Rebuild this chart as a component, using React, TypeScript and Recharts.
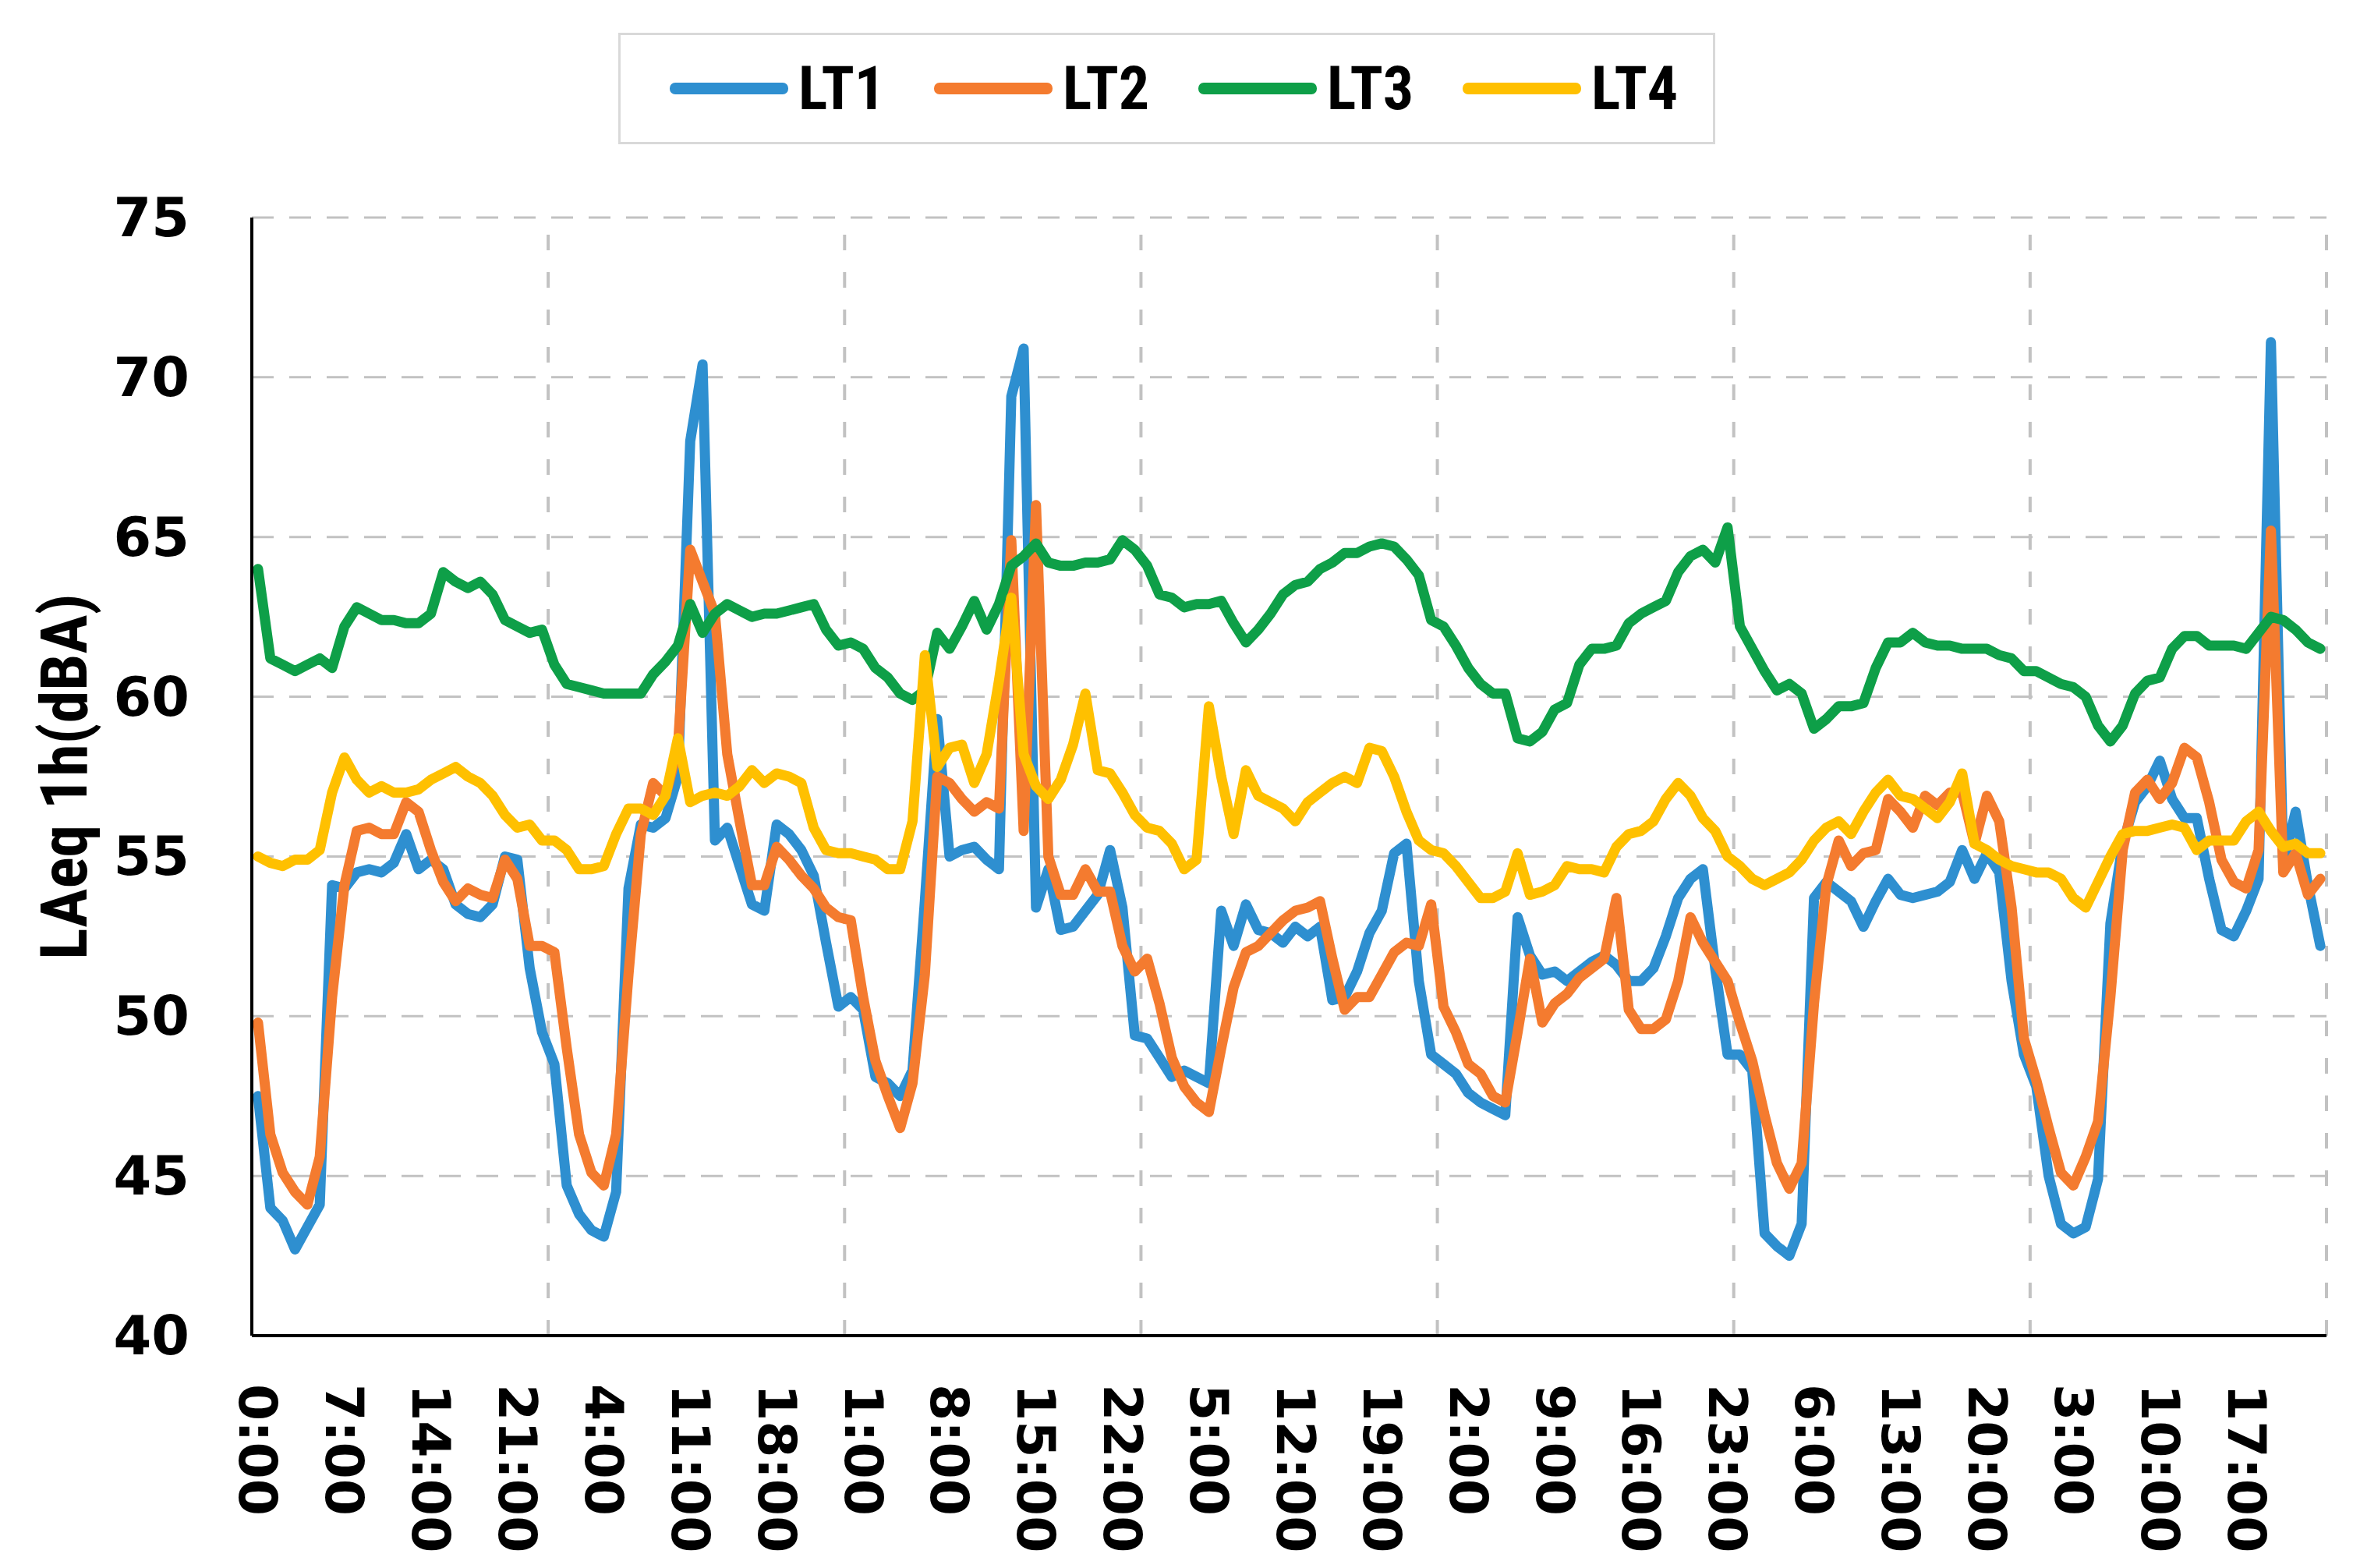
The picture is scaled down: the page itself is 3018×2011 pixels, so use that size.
import React from 'react';
import { LineChart, Line, XAxis, YAxis, CartesianGrid, ReferenceLine, Legend } from 'recharts';

// hour index 0..167 (7 days of hourly LAeq values)
const hours: number[] = Array.from({ length: 168 }, (_, i) => i);

const tickHours = [0, 7, 14, 21, 28, 35, 42, 49, 56, 63, 70, 77, 84, 91, 98, 105, 112, 119, 126, 133, 140, 147, 154, 161];
const tickLabels = ['0:00', '7:00', '14:00', '21:00', '4:00', '11:00', '18:00', '1:00', '8:00', '15:00', '22:00', '5:00', '12:00', '19:00', '2:00', '9:00', '16:00', '23:00', '6:00', '13:00', '20:00', '3:00', '10:00', '17:00'];
const dayBoundaries = [23.5, 47.5, 71.5, 95.5, 119.5, 143.5, 167.5];
const yTicks = [40, 45, 50, 55, 60, 65, 70, 75];

const lt1 = [
  47.5, 44.0, 43.6, 42.7, 43.4, 44.1, 54.1, 54.0, 54.5, 54.6, 54.5, 54.8, 55.7, 54.6, 54.9, 54.6, 53.5, 53.2, 53.1, 53.5, 55.0, 54.9, 51.5, 49.5,
  48.5, 44.7, 43.8, 43.3, 43.1, 44.5, 54.0, 56.0, 55.9, 56.2, 57.5, 68.0, 70.4, 55.5, 55.9, 54.7, 53.5, 53.3, 56.0, 55.7, 55.2, 54.4, 52.3, 50.3,
  50.6, 50.2, 48.1, 47.9, 47.5, 48.3, 53.6, 59.3, 55.0, 55.2, 55.3, 54.9, 54.6, 69.4, 70.9, 53.4, 54.6, 52.7, 52.8, 53.3, 53.8, 55.2, 53.4, 49.4,
  49.3, 48.7, 48.1, 48.3, 48.1, 47.9, 53.3, 52.2, 53.5, 52.7, 52.6, 52.3, 52.8, 52.5, 52.8, 50.5, 50.6, 51.4, 52.6, 53.3, 55.1, 55.4, 51.1, 48.8,
  48.5, 48.2, 47.6, 47.3, 47.1, 46.9, 53.1, 51.9, 51.3, 51.4, 51.1, 51.4, 51.7, 51.9, 51.6, 51.1, 51.1, 51.5, 52.5, 53.7, 54.3, 54.6, 51.5, 48.8,
  48.8, 48.3, 43.2, 42.8, 42.5, 43.5, 53.7, 54.2, 53.9, 53.6, 52.8, 53.6, 54.3, 53.8, 53.7, 53.8, 53.9, 54.2, 55.2, 54.3, 55.1, 54.5, 51.1, 48.8,
  47.8, 45.0, 43.5, 43.2, 43.4, 44.9, 52.9, 55.4, 56.7, 57.2, 58.0, 56.8, 56.2, 56.2, 54.3, 52.7, 52.5, 53.3, 54.3, 71.1, 54.8, 56.4, 54.1, 52.2,
];

const lt2 = [
  49.8, 46.3, 45.1, 44.5, 44.1, 45.6, 50.6, 54.1, 55.8, 55.9, 55.7, 55.7, 56.7, 56.4, 55.2, 54.2, 53.6, 54.0, 53.8, 53.7, 54.9, 54.3, 52.2, 52.2,
  52.0, 49.0, 46.3, 45.1, 44.7, 46.3, 51.3, 55.7, 57.3, 56.9, 58.4, 64.6, 63.6, 62.6, 58.2, 56.1, 54.1, 54.1, 55.3, 54.9, 54.4, 54.0, 53.4, 53.1,
  53.0, 50.6, 48.6, 47.5, 46.5, 47.9, 51.3, 57.5, 57.3, 56.8, 56.4, 56.7, 56.5, 64.9, 55.8, 66.0, 55.0, 53.8, 53.8, 54.6, 53.9, 53.9, 52.2, 51.4,
  51.8, 50.4, 48.7, 47.8, 47.3, 47.0, 49.0, 50.9, 52.0, 52.2, 52.6, 53.0, 53.3, 53.4, 53.6, 51.8, 50.2, 50.6, 50.6, 51.3, 52.0, 52.3, 52.2, 53.5,
  50.3, 49.5, 48.5, 48.2, 47.5, 47.3, 49.5, 51.8, 49.8, 50.4, 50.7, 51.2, 51.5, 51.8, 53.7, 50.2, 49.6, 49.6, 49.9, 51.1, 53.1, 52.3, 51.7, 51.1,
  49.8, 48.6, 46.9, 45.4, 44.6, 45.4, 50.4, 54.1, 55.5, 54.7, 55.1, 55.2, 56.8, 56.4, 55.9, 56.9, 56.6, 57.0, 57.0, 55.4, 56.9, 56.1, 53.4, 49.3,
  48.0, 46.5, 45.1, 44.7, 45.6, 46.7, 50.6, 55.2, 57.0, 57.4, 56.8, 57.3, 58.4, 58.1, 56.7, 54.9, 54.2, 54.0, 55.2, 65.2, 54.5, 55.1, 53.8, 54.3,
];

const lt3 = [
  64.0, 61.2, 61.0, 60.8, 61.0, 61.2, 60.9, 62.2, 62.8, 62.6, 62.4, 62.4, 62.3, 62.3, 62.6, 63.9, 63.6, 63.4, 63.6, 63.2, 62.4, 62.2, 62.0, 62.1,
  61.0, 60.4, 60.3, 60.2, 60.1, 60.1, 60.1, 60.1, 60.7, 61.1, 61.6, 62.9, 62.0, 62.6, 62.9, 62.7, 62.5, 62.6, 62.6, 62.7, 62.8, 62.9, 62.1, 61.6,
  61.7, 61.5, 60.9, 60.6, 60.1, 59.9, 60.2, 62.0, 61.5, 62.2, 63.0, 62.1, 62.9, 64.1, 64.4, 64.8, 64.2, 64.1, 64.1, 64.2, 64.2, 64.3, 64.9, 64.6,
  64.1, 63.2, 63.1, 62.8, 62.9, 62.9, 63.0, 62.3, 61.7, 62.1, 62.6, 63.2, 63.5, 63.6, 64.0, 64.2, 64.5, 64.5, 64.7, 64.8, 64.7, 64.3, 63.8, 62.4,
  62.2, 61.6, 60.9, 60.4, 60.1, 60.1, 58.7, 58.6, 58.9, 59.6, 59.8, 61.0, 61.5, 61.5, 61.6, 62.3, 62.6, 62.8, 63.0, 63.9, 64.4, 64.6, 64.2, 65.3,
  62.2, 61.5, 60.8, 60.2, 60.4, 60.1, 59.0, 59.3, 59.7, 59.7, 59.8, 60.9, 61.7, 61.7, 62.0, 61.7, 61.6, 61.6, 61.5, 61.5, 61.5, 61.3, 61.2, 60.8,
  60.8, 60.6, 60.4, 60.3, 60.0, 59.1, 58.6, 59.1, 60.1, 60.5, 60.6, 61.5, 61.9, 61.9, 61.6, 61.6, 61.6, 61.5, 62.0, 62.5, 62.4, 62.1, 61.7, 61.5,
];

const lt4 = [
  55.0, 54.8, 54.7, 54.9, 54.9, 55.2, 57.0, 58.1, 57.4, 57.0, 57.2, 57.0, 57.0, 57.1, 57.4, 57.6, 57.8, 57.5, 57.3, 56.9, 56.3, 55.9, 56.0, 55.5,
  55.5, 55.2, 54.6, 54.6, 54.7, 55.7, 56.5, 56.5, 56.3, 56.9, 58.7, 56.7, 56.9, 57.0, 56.9, 57.2, 57.7, 57.3, 57.6, 57.5, 57.3, 55.9, 55.2, 55.1,
  55.1, 55.0, 54.9, 54.6, 54.6, 56.1, 61.3, 57.8, 58.4, 58.5, 57.3, 58.2, 60.5, 63.1, 58.2, 57.2, 56.8, 57.4, 58.5, 60.1, 57.7, 57.6, 57.0, 56.3,
  55.9, 55.8, 55.4, 54.6, 54.9, 59.7, 57.5, 55.7, 57.7, 56.9, 56.7, 56.5, 56.1, 56.7, 57.0, 57.3, 57.5, 57.3, 58.4, 58.3, 57.5, 56.4, 55.5, 55.2,
  55.1, 54.7, 54.2, 53.7, 53.7, 53.9, 55.1, 53.8, 53.9, 54.1, 54.7, 54.6, 54.6, 54.5, 55.3, 55.7, 55.8, 56.1, 56.8, 57.3, 56.9, 56.2, 55.8, 55.0,
  54.7, 54.3, 54.1, 54.3, 54.5, 54.9, 55.5, 55.9, 56.1, 55.7, 56.4, 57.0, 57.4, 56.9, 56.8, 56.5, 56.2, 56.7, 57.6, 55.4, 55.2, 54.9, 54.7, 54.6,
  54.5, 54.5, 54.3, 53.7, 53.4, 54.2, 55.0, 55.7, 55.8, 55.8, 55.9, 56.0, 55.9, 55.2, 55.5, 55.5, 55.5, 56.1, 56.4, 55.8, 55.3, 55.4, 55.1, 55.1,
];

const series = [
  { key: 'lt1', name: 'LT1', color: '#2E8FD0' },
  { key: 'lt2', name: 'LT2', color: '#F47B2F' },
  { key: 'lt3', name: 'LT3', color: '#0E9F48' },
  { key: 'lt4', name: 'LT4', color: '#FFC000' },
];

const data = hours.map((h) => ({ h, lt1: lt1[h], lt2: lt2[h], lt3: lt3[h], lt4: lt4[h] }));

const WIDE = "'DejaVu Sans', Verdana, sans-serif";
const NARROW = "'Liberation Sans Narrow', 'Arial Narrow', 'Roboto Condensed', 'Liberation Sans', sans-serif";
const GRID = '#c2c2c2';

const XTick = (props: any) => {
  const { x, y, payload } = props;
  const idx = tickHours.indexOf(payload.value);
  return (
    <text
      transform={`translate(${x},${y}) rotate(90)`}
      textAnchor="start"
      dominantBaseline="central"
      fontFamily={WIDE}
      fontWeight="bold"
      fontSize={68}
      fill="#000"
    >
      {tickLabels[idx]}
    </text>
  );
};

const YTick = (props: any) => {
  const { x, y, payload } = props;
  return (
    <text x={x} y={y} textAnchor="end" dominantBaseline="central" fontFamily={WIDE} fontWeight="bold" fontSize={70} fill="#000">
      {payload.value}
    </text>
  );
};

const YTitle = (props: any) => {
  const vb = props.viewBox || { x: 0, y: 279, width: 323, height: 1434 };
  const cx = vb.x + 82;
  const cy = vb.y + vb.height / 2;
  return (
    <text
      transform={`translate(${cx},${cy}) rotate(-90)`}
      textAnchor="middle"
      dominantBaseline="central"
      fontFamily={NARROW}
      fontWeight="bold"
      fontSize={84}
      fill="#000"
    >
      LAeq 1h(dBA)
    </text>
  );
};

const LegendBox = () => (
  <div
    style={{
      boxSizing: 'border-box',
      width: 1407,
      height: 143,
      border: '3px solid #d9d9d9',
      display: 'flex',
      alignItems: 'center',
      paddingLeft: 63,
      background: '#fff',
    }}
  >
    {series.map((s) => (
      <div key={s.key} style={{ display: 'flex', alignItems: 'center', width: 339, flex: '0 0 339px' }}>
        <div style={{ width: 152, height: 15, background: s.color, borderRadius: 7 }} />
        <span style={{ marginLeft: 13, fontFamily: NARROW, fontWeight: 700, fontSize: 78, color: '#000', lineHeight: 1 }}>
          {s.name}
        </span>
      </div>
    ))}
  </div>
);

export default function App() {
  return (
    <div style={{ position: 'absolute', left: 0, top: 0, width: 3018, height: 2011, background: '#fff' }}>
      <LineChart width={3018} height={2011} data={data} margin={{ top: 279, right: 34, bottom: 0, left: 0 }}>
        <CartesianGrid horizontal vertical={false} stroke={GRID} strokeWidth={3} strokeDasharray="28 20" />
        {dayBoundaries.map((d) => (
          <ReferenceLine key={d} x={d} stroke={GRID} strokeWidth={4} strokeDasharray="20 28" />
        ))}
        <XAxis
          dataKey="h"
          type="number"
          domain={[-0.5, 167.5]}
          ticks={tickHours}
          interval={0}
          tick={<XTick />}
          tickLine={false}
          tickSize={0}
          tickMargin={62}
          axisLine={{ stroke: '#000', strokeWidth: 4 }}
          height={298}
        />
        <YAxis
          type="number"
          domain={[40, 75]}
          ticks={yTicks}
          interval={0}
          tick={<YTick />}
          tickLine={false}
          tickSize={0}
          tickMargin={80}
          axisLine={{ stroke: '#000', strokeWidth: 4 }}
          width={323}
          label={<YTitle />}
        />
        <Legend
          layout="horizontal"
          verticalAlign="middle"
          align="center"
          wrapperStyle={{ top: 42, left: 793, width: 1407, height: 143 }}
          content={() => <LegendBox />}
        />
        {series.map((s) => (
          <Line
            key={s.key}
            type="linear"
            dataKey={s.key}
            name={s.name}
            stroke={s.color}
            strokeWidth={13}
            strokeLinejoin="round"
            strokeLinecap="round"
            dot={false}
            activeDot={false}
            isAnimationActive={false}
          />
        ))}
      </LineChart>
    </div>
  );
}
